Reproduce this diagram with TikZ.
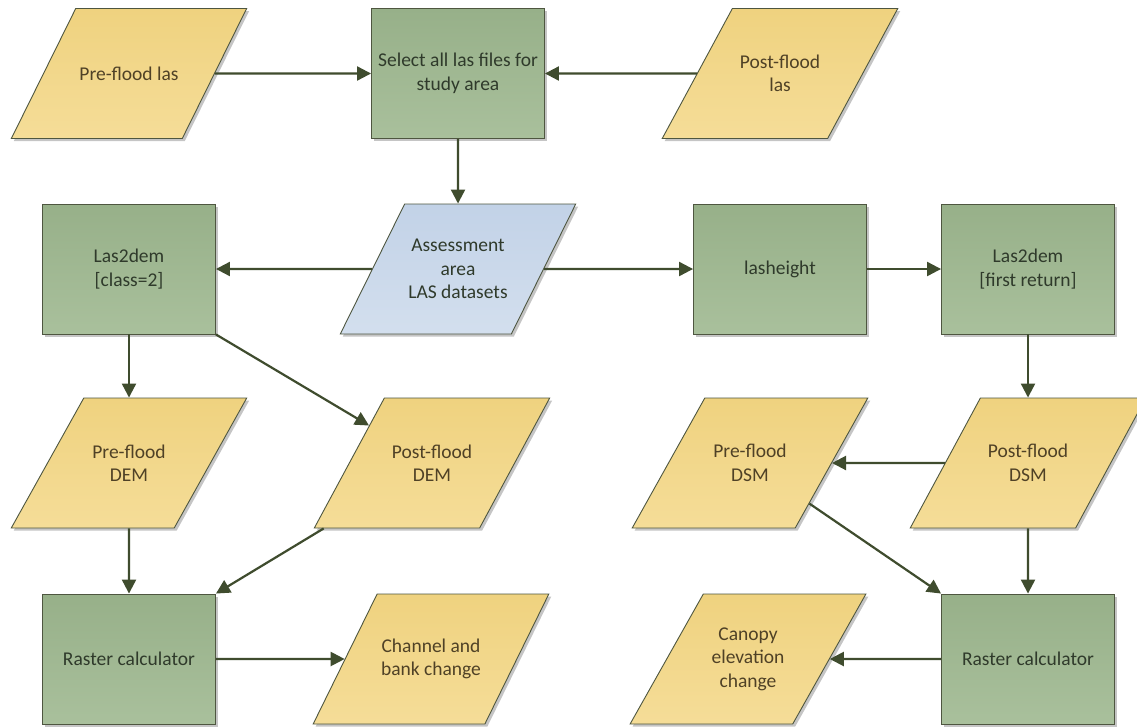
\documentclass[tikz,border=0pt]{standalone}
\usepackage{fontspec}
\setmainfont{Carlito}
\usetikzlibrary{shapes.geometric,arrows.meta,shadows}
\definecolor{greentop}{HTML}{97B089}
\definecolor{greenbot}{HTML}{A9C09C}
\definecolor{yellowtop}{HTML}{EFD27F}
\definecolor{yellowbot}{HTML}{F5DD98}
\definecolor{bluetop}{HTML}{C2D2E7}
\definecolor{bluebot}{HTML}{D3DFEE}
\definecolor{edgegray}{HTML}{4E5640}
\definecolor{flowcol}{HTML}{3F4C2E}
\definecolor{greentext}{HTML}{2F3A2B}
\definecolor{browntext}{HTML}{4F4126}
\tikzset{%
  process/.style = {shape=rectangle, draw=edgegray, line width=0.9pt, align=center,%
                    minimum width=173pt, minimum height=130pt, inner sep=2pt,%
                    top color=greentop, bottom color=greenbot, text=greentext,%
                    drop shadow={shadow xshift=2.5pt, shadow yshift=-2.5pt, opacity=0.45}},%
  dataset/.style = {shape=trapezium, trapezium left angle=64, trapezium right angle=116,%
                    trapezium stretches=true, draw=edgegray, line width=0.9pt, align=center,%
                    minimum width=236pt, minimum height=130pt, inner xsep=2pt, inner ysep=#1,%
                    top color=yellowtop, bottom color=yellowbot, text=browntext,%
                    drop shadow={shadow xshift=2.5pt, shadow yshift=-2.5pt, opacity=0.45}},%
  dataset/.default = 45pt,%
  lasdata/.style = {dataset=34pt, top color=bluetop, bottom color=bluebot, text=greentext},%
  flow/.style    = {draw=flowcol, line width=2.2pt, -{Triangle[length=14pt,width=14pt]}}%
}

\begin{document}
\begin{tikzpicture}[x=1pt,y=-1pt,every node/.style={font=\fontsize{19.5}{23.5}\selectfont}]
	\path[use as bounding box, fill=white] (0,0) rectangle (1137,726);
	\node [dataset=57pt] (prelas) at (129,73.5) {Pre-flood las};
	\node [process] (select) at (458,73.5) {Select all las files for\\study area};
	\node [dataset] (postlas) at (780,73.5) {Post-flood\\las};
	\node [process] (lasdemA) at (129,269) {Las2dem\\{[class=2]}};
	\node [lasdata] (assess) at (458,269) {Assessment\\area\\LAS datasets};
	\node [process] (lasheight) at (780,269) {lasheight};
	\node [process] (lasdemB) at (1028,269) {Las2dem\\{[first return]}};
	\node [dataset] (predem) at (129,463) {Pre-flood\\DEM};
	\node [dataset] (postdem) at (432,463) {Post-flood\\DEM};
	\node [dataset] (predsm) at (750,463) {Pre-flood\\DSM};
	\node [dataset] (postdsm) at (1028,463) {Post-flood\\DSM};
	\node [process] (rasterA) at (129,659) {Raster calculator};
	\node [dataset=43pt] (channel) at (431,659) {Channel and\\bank change};
	\node [process] (rasterB) at (1028,659) {Raster calculator};
	\node [dataset=33pt] (canopy) at (748,659) {Canopy\\elevation\\change};

	\draw [flow] (prelas) -- (select);
	\draw [flow] (postlas) -- (select);
	\draw [flow] (select) -- (assess);
	\draw [flow] (assess) -- (lasdemA);
	\draw [flow] (assess) -- (lasheight);
	\draw [flow] (lasheight) -- (lasdemB);
	\draw [flow] (lasdemA) -- (predem);
	\draw [flow] (lasdemA.south east) -- (postdem);
	\draw [flow] (predem) -- (rasterA);
	\draw [flow] (postdem) -- (rasterA.north east);
	\draw [flow] (rasterA) -- (channel);
	\draw [flow] (lasdemB) -- (postdsm);
	\draw [flow] (postdsm) -- (predsm);
	\draw [flow] (predsm) -- (rasterB.north west);
	\draw [flow] (postdsm) -- (rasterB);
	\draw [flow] (rasterB) -- (canopy);
\end{tikzpicture}
\end{document}
